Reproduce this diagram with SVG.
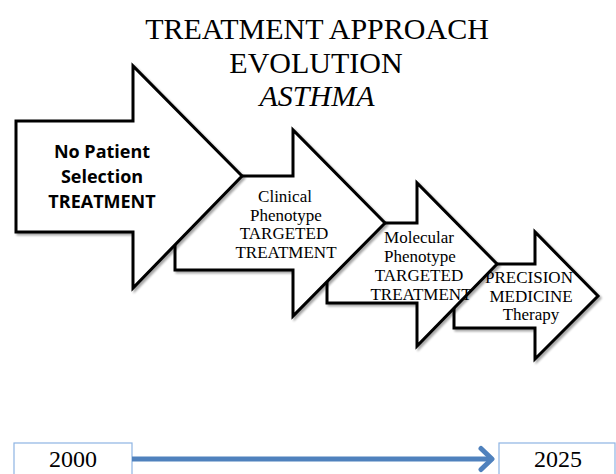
<svg xmlns="http://www.w3.org/2000/svg" width="616" height="474" viewBox="0 0 616 474">
<style>
.arr{fill:#ffffff;stroke:#000000;stroke-width:3;stroke-linejoin:miter;filter:url(#sh)}
.ser{font-family:"Liberation Serif","DejaVu Serif",serif;fill:#000;text-anchor:middle}
.t1{font-size:30px}
.lbl{font-size:17px}
.bold{font-family:"Open Sans","Liberation Sans",sans-serif;font-weight:bold;font-size:18px;fill:#000;text-anchor:middle}
.yr{font-family:"Liberation Serif","DejaVu Serif",serif;font-size:24px;fill:#000;text-anchor:middle}
.box{fill:#ffffff;stroke:#8eb4e3;stroke-width:1.2}
</style>
<defs>
<filter id="sh" x="-10%" y="-10%" width="130%" height="130%">
<feGaussianBlur in="SourceAlpha" stdDeviation="1.2"/>
<feOffset dx="1.5" dy="2" result="o"/>
<feComponentTransfer><feFuncA type="linear" slope="0.35"/></feComponentTransfer>
<feMerge><feMergeNode/><feMergeNode in="SourceGraphic"/></feMerge>
</filter>
<marker id="chev" markerWidth="24" markerHeight="30" refX="14" refY="15" orient="auto" markerUnits="userSpaceOnUse" viewBox="0 0 24 30">
<path d="M3,4.5 L14,15 L3,25.5" fill="none" stroke="#4f81bd" stroke-width="5" stroke-linecap="round" stroke-linejoin="round"/>
</marker>
</defs>
<g id="title">
<text class="ser t1" x="317" y="39">TREATMENT APPROACH</text>
<text class="ser t1" x="316" y="73">EVOLUTION</text>
<text class="ser t1" x="317" y="106" font-style="italic">ASTHMA</text>
</g>
<g id="arrow4">
<path class="arr" d="M454,264 L535,264 L535,232 L598,296 L535,359 L535,328 L454,328 Z"/>
<text class="ser lbl" x="529" y="283">PRECISION</text>
<text class="ser lbl" x="531" y="302">MEDICINE</text>
<text class="ser lbl" x="531" y="320">Therapy</text>
</g>
<g id="arrow3">
<path class="arr" d="M327,223 L417,223 L417,183 L497,264 L417,346 L417,303 L327,303 Z"/>
<text class="ser lbl" x="419" y="243">Molecular</text>
<text class="ser lbl" x="420" y="262">Phenotype</text>
<text class="ser lbl" x="419" y="281">TARGETED</text>
<text class="ser lbl" x="421" y="300">TREATMENT</text>
</g>
<g id="arrow2">
<path class="arr" d="M175,176 L293,176 L293,130 L385,223 L293,316 L293,270 L175,270 Z"/>
<text class="ser lbl" x="285" y="202">Clinical</text>
<text class="ser lbl" x="286" y="221">Phenotype</text>
<text class="ser lbl" x="284" y="239">TARGETED</text>
<text class="ser lbl" x="286" y="258">TREATMENT</text>
</g>
<g id="arrow1">
<path class="arr" d="M16,121 L133,121 L133,66 L242,176 L133,288 L133,232 L16,232 Z"/>
<text class="bold" x="102" y="158">No Patient</text>
<text class="bold" x="102" y="183">Selection</text>
<text class="bold" x="102" y="208">TREATMENT</text>
</g>
<g id="year2000">
<rect class="box" x="14" y="443" width="118" height="40"/>
<text class="yr" x="73" y="467">2000</text>
</g>
<g id="year2025">
<rect class="box" x="499" y="443" width="116" height="40"/>
<text class="yr" x="558" y="467">2025</text>
</g>
<g id="connectors">
<line x1="132" y1="459" x2="492" y2="459" stroke="#4f81bd" stroke-width="5" marker-end="url(#chev)"/>
</g>
</svg>
